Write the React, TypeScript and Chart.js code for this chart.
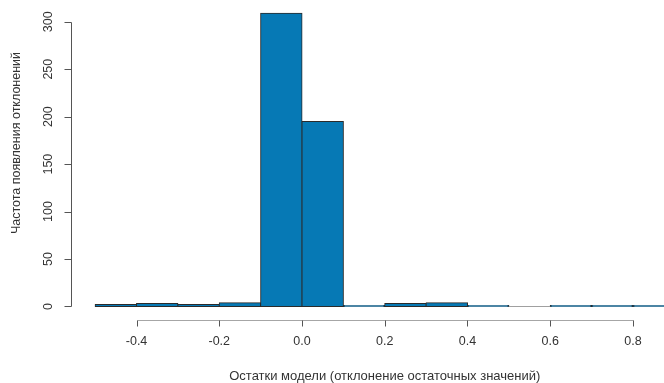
import React, { useEffect, useRef } from "react";
import { Chart, registerables } from "chart.js";

Chart.register(...registerables);

// Histogram bins (centres of 0.1-wide bins from -0.5 to 0.9) and counts
const binCenters = [-0.45, -0.35, -0.25, -0.15, -0.05, 0.05, 0.15, 0.25, 0.35, 0.45, 0.55, 0.65, 0.75, 0.85];
const binWidth = 0.1;
const counts = [2, 3, 2, 4, 309, 195, 1, 3, 4, 1, 0, 1, 1, 1];

const xTicks = [-0.4, -0.2, 0.0, 0.2, 0.4, 0.6, 0.8];
const xTickLabels = ["-0.4", "-0.2", "0.0", "0.2", "0.4", "0.6", "0.8"];
const yTicks = [0, 50, 100, 150, 200, 250, 300];
const yTickLabels = ["0", "50", "100", "150", "200", "250", "300"];

const xTitle = "Остатки модели (отклонение остаточных значений)";
const yTitle = "Частота появления отклонений";

const FONT = '"Liberation Sans", Arial, sans-serif';

const rAxesPlugin = {
  id: "rAxes",
  afterDatasetsDraw(chart: any) {
    // empty bins are drawn by R as a flat grey outline on the baseline
    const ctx = chart.ctx as CanvasRenderingContext2D;
    const xs = chart.scales.x;
    const ys = chart.scales.y;
    ctx.save();
    ctx.strokeStyle = "#a0a0a0";
    ctx.lineWidth = 1;
    counts.forEach((c, i) => {
      if (c !== 0) return;
      const y = Math.round(ys.getPixelForValue(0)) + 0.5;
      ctx.beginPath();
      ctx.moveTo(xs.getPixelForValue(binCenters[i] - binWidth / 2), y);
      ctx.lineTo(xs.getPixelForValue(binCenters[i] + binWidth / 2), y);
      ctx.stroke();
    });
    ctx.restore();
  },
  afterDraw(chart: any) {
    const ctx = chart.ctx as CanvasRenderingContext2D;
    const xs = chart.scales.x;
    const ys = chart.scales.y;
    ctx.save();

    // ---- X axis ----
    const axY = 320.5;
    const x0 = Math.round(xs.getPixelForValue(xTicks[0])) + 0.5;
    const x1 = Math.round(xs.getPixelForValue(xTicks[xTicks.length - 1])) + 0.5;
    ctx.strokeStyle = "#a6a6a6";
    ctx.lineWidth = 1;
    ctx.beginPath();
    ctx.moveTo(x0, axY);
    ctx.lineTo(x1, axY);
    ctx.stroke();
    ctx.strokeStyle = "#555";
    xTicks.forEach((v) => {
      const px = Math.round(xs.getPixelForValue(v)) + 0.5;
      ctx.beginPath();
      ctx.moveTo(px, axY);
      ctx.lineTo(px, axY + 6);
      ctx.stroke();
    });
    ctx.fillStyle = "#333";
    ctx.font = `12.5px ${FONT}`;
    ctx.textAlign = "center";
    ctx.textBaseline = "middle";
    xTicks.forEach((v, i) => {
      ctx.fillText(xTickLabels[i], xs.getPixelForValue(v), 342);
    });
    ctx.font = `13px ${FONT}`;
    ctx.fillText(xTitle, xs.getPixelForValue(0.2), 376);

    // ---- Y axis ----
    const axX = 71.5;
    const y0 = Math.round(ys.getPixelForValue(yTicks[0])) + 0.5;
    const y1 = Math.round(ys.getPixelForValue(yTicks[yTicks.length - 1])) + 0.5;
    ctx.strokeStyle = "#555";
    ctx.beginPath();
    ctx.moveTo(axX, y0);
    ctx.lineTo(axX, y1);
    ctx.stroke();
    yTicks.forEach((v) => {
      const py = Math.round(ys.getPixelForValue(v)) + 0.5;
      ctx.beginPath();
      ctx.moveTo(axX, py);
      ctx.lineTo(axX - 7, py);
      ctx.stroke();
    });
    ctx.font = `12.5px ${FONT}`;
    yTicks.forEach((v, i) => {
      ctx.save();
      ctx.translate(49, ys.getPixelForValue(v));
      ctx.rotate(-Math.PI / 2);
      ctx.fillText(yTickLabels[i], 0, 0);
      ctx.restore();
    });
    ctx.save();
    ctx.translate(17, 143);
    ctx.rotate(-Math.PI / 2);
    ctx.font = `12.5px ${FONT}`;
    ctx.fillText(yTitle, 0, 0);
    ctx.restore();

    ctx.restore();
  },
};

export default function App() {
  const ref = useRef<HTMLCanvasElement | null>(null);
  useEffect(() => {
    if (!ref.current) return;
    const chart = new Chart(ref.current, {
      type: "bar",
      data: {
        datasets: [
          {
            data: binCenters.map((x, i) => ({ x, y: counts[i] })),
            backgroundColor: "#0679b5",
            borderColor: "#2b2b2b",
            borderWidth: 1,
            barPercentage: 1,
            categoryPercentage: 1,
            borderSkipped: false,
            inflateAmount: 0.5,
          } as any,
        ],
      },
      options: {
        responsive: false,
        animation: false,
        devicePixelRatio: 1,
        layout: { padding: { left: 72, right: 0, top: 2, bottom: 64 } },
        plugins: { legend: { display: false }, tooltip: { enabled: false } },
        scales: {
          x: { type: "linear", min: -0.556, max: 0.875, offset: false, display: false },
          y: { type: "linear", min: -13.2, max: 320.8, display: false },
        },
      },
      plugins: [rAxesPlugin],
    });
    return () => chart.destroy();
  }, []);
  return (
    <div style={{ position: "absolute", left: 0, top: 0, width: 664, height: 383, background: "#fff" }}>
      <canvas ref={ref} width={664} height={383} />
    </div>
  );
}
